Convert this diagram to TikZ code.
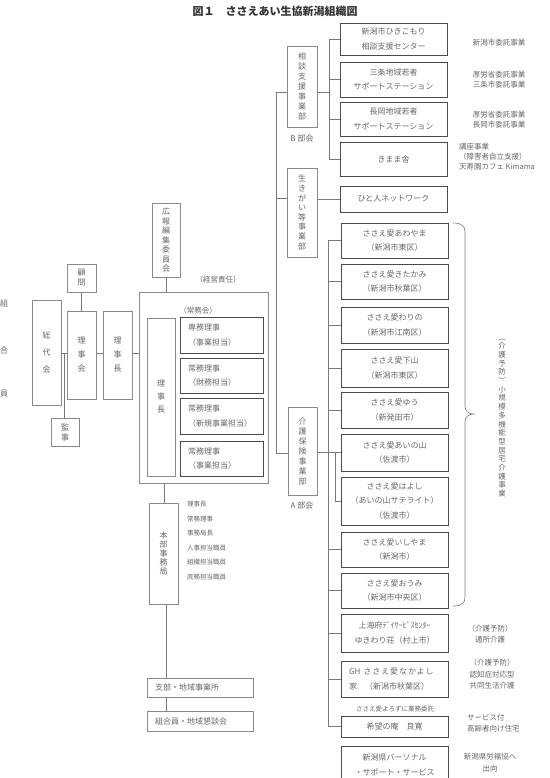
\documentclass[tikz,border=0pt]{standalone}
\usepackage{fontspec}
\setmainfont{Noto Sans CJK JP}
\newcommand\myfs[2]{\fontsize{#1}{#2}\selectfont}
\definecolor{txgray}{HTML}{666666}
\definecolor{bxgray}{HTML}{8A8A8A}
\definecolor{dkgray}{HTML}{4A4A4A}
\definecolor{lngray}{HTML}{7A7A7A}
\definecolor{ttl}{HTML}{333333}
\tikzset{
 myline/.style={draw=lngray, line width=0.6pt},
 vbox/.style={draw=bxgray, line width=0.6pt, inner sep=0pt, outer sep=0pt, text=txgray, align=center, font=\myfs{8}{14}},
 dbox/.style={vbox, draw=dkgray, line width=0.9pt, font=\myfs{8}{14.5}},
 lbl/.style={inner sep=0pt, outer sep=0pt, text=txgray, font=\myfs{7.5}{10}, align=center},
 sz/.style 2 args={minimum width=#1pt, minimum height=#2pt},
}
\begin{document}
\begin{tikzpicture}[x=1pt,y=-1pt]
\useasboundingbox (0,0) rectangle (549,778);
% title
\node[inner sep=0pt, text=ttl, font=\myfs{11}{13}\bfseries] (title) at (275,11) {図１　ささえあい生協新潟組織図};
% left column
\node[lbl,font=\myfs{8}{10}] (k1) at (4,303) {組};
\node[lbl,font=\myfs{8}{10}] (k2) at (4,350) {合};
\node[lbl,font=\myfs{8}{10}] (k3) at (4,394) {員};
\node[vbox,sz={29}{105},font=\myfs{8}{17}] (sodai) at (46.5,352.5) {総\\代\\会};
\node[vbox,sz={29}{88},font=\myfs{8}{14}] (rijikai) at (81.5,355) {理\\事\\会};
\node[vbox,sz={29}{28},font=\myfs{8}{10}] (komon) at (81.5,278) {顧\\問};
\node[vbox,sz={28}{28},font=\myfs{8}{10}] (kanji) at (65,432) {監\\事};
\node[vbox,sz={29}{88},font=\myfs{8}{14}] (richoL) at (117.5,355) {理\\事\\長};
\node[vbox,sz={129}{191}] (big) at (203.5,387.5) {};
\node[vbox,sz={28}{74},font=\myfs{8}{9.5}] (koho) at (166,240) {広\\報\\編\\集\\委\\員\\会};
\node[lbl] (keiei) at (218,280) {（経営責任）};
\node[lbl] (jomukai) at (198,311) {（常務会）};
\node[vbox,sz={28}{158},font=\myfs{8}{13}] (richoI) at (161,397) {理\\事\\長};
\node[dbox,sz={83}{36},text width=67pt,align=left] (jm1) at (221.5,335) {専務理事\\（事業担当）};
\node[dbox,sz={83}{35},text width=67pt,align=left] (jm2) at (221.5,375.5) {常務理事\\（財務担当）};
\node[dbox,sz={83}{36},text width=67pt,align=left] (jm3) at (221.5,416) {常務理事\\（新規事業担当）};
\node[dbox,sz={83}{35},text width=67pt,align=left] (jm4) at (221.5,458.5) {常務理事\\（事業担当）};
\node[vbox,sz={29}{101},font=\myfs{8}{9}] (honbu) at (163.5,553.5) {本\\部\\事\\務\\局};
\node[lbl,anchor=north west,align=left,font=\myfs{6.5}{14.5}] (hlist) at (187,501.5) {理事長\\常務理事\\事務局長\\人事担当職員\\組織担当職員\\庶務担当職員};
\node[vbox,sz={106}{19},text width=90pt,align=left] (shibu) at (200,687.5) {支部・地域事業所};
\node[vbox,sz={106}{20},text width=90pt,align=left] (kumiai) at (200,721) {組合員・地域懇談会};
% right department boxes
\node[vbox,sz={30}{81},font=\myfs{8}{10}] (sodan) at (302,86.5) {相\\談\\支\\援\\事\\業\\部};
\node[lbl,font=\myfs{8}{10}] (bbukai) at (302,138) {B 部会};
\node[vbox,sz={30}{89},font=\myfs{8}{9.6}] (ikigai) at (302,212.5) {生\\き\\が\\い\\等\\事\\業\\部};
\node[vbox,sz={29}{88},font=\myfs{8}{10}] (kaigo) at (302.5,451) {介\\護\\保\\険\\事\\業\\部};
\node[lbl,font=\myfs{8}{10}] (abukai) at (302,505) {A 部会};
% B boxes
\node[dbox,sz={107}{32}] (hiki) at (393.5,39) {新潟市ひきこもり\\相談支援センター};
\node[dbox,sz={107}{35}] (sanjo) at (393.5,79.5) {三条地域若者\\サポートステーション};
\node[dbox,sz={107}{34}] (nagaoka) at (393.5,119) {長岡地域若者\\サポートステーション};
\node[dbox,sz={107}{34}] (kimama) at (393.5,159) {きまま舎};
\node[dbox,sz={107}{26}] (hito) at (393.5,199) {ひと人ネットワーク};
% A boxes
\node[dbox,sz={107}{35}] (awayama) at (394.5,240.5) {ささえ愛あわやま\\（新潟市東区）};
\node[dbox,sz={107}{35}] (kitakami) at (394.5,281.5) {ささえ愛きたかみ\\（新潟市秋葉区）};
\node[dbox,sz={107}{36}] (warino) at (394.5,325) {ささえ愛わりの\\（新潟市江南区）};
\node[dbox,sz={107}{38}] (shimoyama) at (394.5,368) {ささえ愛下山\\（新潟市東区）};
\node[dbox,sz={107}{36}] (yuu) at (394.5,410) {ささえ愛ゆう\\（新発田市）};
\node[dbox,sz={107}{37}] (ainoyama) at (394.5,452.5) {ささえ愛あいの山\\（佐渡市）};
\node[dbox,sz={107}{48}] (hayoshi) at (394.5,501) {ささえ愛はよし\\（あいの山サテライト）\\（佐渡市）};
\node[dbox,sz={107}{35}] (ishiyama) at (394.5,549.5) {ささえ愛いしやま\\（新潟市）};
\node[dbox,sz={107}{35}] (oumi) at (394.5,590.5) {ささえ愛おうみ\\（新潟市中央区）};
\node[dbox,sz={107}{38}] (shanghai) at (394.5,633) {上海府ﾃﾞｲｻｰﾋﾞｽｾﾝﾀｰ\\ゆきわり荘（村上市）};
\node[dbox,sz={107}{36}] (gh) at (394.5,679) {};
\node[lbl,anchor=west,align=left,font=\myfs{8}{14.5}] (ght) at (349,679) {GH\hspace{3pt}{\addfontfeature{LetterSpace=12}ささえ愛なかよし}\\家　（新潟市秋葉区）};
\node[lbl,font=\myfs{6.5}{8}] (yorozu) at (395,709) {ささえ愛よろずに業務委託};
\node[dbox,sz={107}{21}] (kibou) at (394.5,726.5) {希望の庵　良寛};
\node[dbox,sz={107}{44}] (personal) at (394.5,768) {};
\node[lbl,font=\myfs{8}{15}] (personalt) at (394.5,764.5) {新潟県パーソナル\\・サポート・サービス};
% right notes
\node[lbl] (n1) at (499,43) {新潟市委託事業};
\node[lbl] (n2) at (499,79.5) {厚労省委託事業\\三条市委託事業};
\node[lbl] (n3) at (499,120) {厚労省委託事業\\長岡市委託事業};
\node[lbl,anchor=north west,align=left] (n4) at (459,143) {講座事業\\（障害者自立支援）\\天寿園カフェ Kimama};
\node[lbl,font=\myfs{7.5}{11}] (n5) at (490,634) {（介護予防）\\通所介護};
\node[lbl,font=\myfs{7.5}{11.5}] (n6) at (492,674.5) {（介護予防）\\認知症対応型\\共同生活介護};
\node[lbl,anchor=west,align=left,font=\myfs{7.5}{11.5}] (n7) at (467,723) {サービス付\\高齢者向け住宅};
\node[lbl,font=\myfs{7.5}{12}] (n8) at (490,762.5) {新潟県労福協へ\\出向};
\node[lbl,font=\myfs{7.5}{8.7}] (bracetxt) at (502,418) {︵\\介\\護\\予\\防\\︶\\小\\規\\模\\多\\機\\能\\型\\居\\宅\\介\\護\\事\\業};
% brace
\coordinate (bra) at (453,223);
\coordinate (brb) at (453,606);
\draw[myline] (bra) .. controls (462,223) and (465,226) .. (465,232) -- (465,406)
  .. controls (465,411) and (468,414) .. (474,414)
  .. controls (468,414) and (465,417) .. (465,422) -- (465,597)
  .. controls (465,603) and (462,606) .. (brb);
% left connectors
\coordinate (jA) at (64,353);
\draw[myline] (komon.south) -- (rijikai.north);
\draw[myline] (sodai.east|-jA) -- (rijikai.west|-jA);
\draw[myline] (jA) -- (jA|-kanji.north);
\draw[myline] (rijikai.east|-jA) -- (richoL.west|-jA);
\draw[myline] (richoL.east|-jA) -- (big.west|-jA);
\draw[myline] (koho.south) -- (koho.south|-big.north);
\coordinate (hx) at (164,0);
\draw[myline] (hx|-big.south) -- (hx|-honbu.north);
\coordinate (sx) at (166,0);
\draw[myline] (sx|-honbu.south) -- (sx|-shibu.north);
\draw[myline] (sx|-shibu.south) -- (sx|-kumiai.north);
% main vertical
\coordinate (mtop) at (276,92);
\coordinate (mmid) at (276,198);
\coordinate (mbot) at (276,453);
\draw[myline] (mtop) -- (mbot);
\draw[myline] (mtop) -- (sodan.west|-mtop);
\draw[myline] (mmid) -- (ikigai.west|-mmid);
\draw[myline] (mbot) -- (kaigo.west|-mbot);
% B branch
\coordinate (bvx) at (329,92);
\draw[myline] (sodan.east|-bvx) -- (bvx);
\draw[myline] (hiki.west-|bvx) -- (kimama.west-|bvx);
\foreach \n in {hiki,sanjo,nagaoka,kimama}{\draw[myline] (\n.west-|bvx) -- (\n.west);}
\draw[myline] (ikigai.east|-hito.west) -- (hito.west);
% A branch
\coordinate (avx) at (328,0);
\draw[myline] (awayama.west-|avx) -- (kibou.west-|avx);
\foreach \n in {awayama,kitakami,warino,shimoyama,yuu,ishiyama,oumi,shanghai,gh,kibou}{\draw[myline] (\n.west-|avx) -- (\n.west);}
\draw[myline] (kaigo.east|-ainoyama.west) -- (ainoyama.west);
\coordinate (hyx) at (335,0);
\draw[myline] (ainoyama.west-|hyx) -- (hayoshi.west-|hyx) -- (hayoshi.west);
\end{tikzpicture}
\end{document}
